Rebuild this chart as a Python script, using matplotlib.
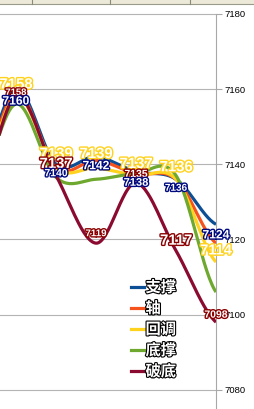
import numpy as np
import matplotlib
matplotlib.use("Agg")
import matplotlib.pyplot as plt
import matplotlib.patheffects as pe
from matplotlib.lines import Line2D

# data points (index 0 is the point just left of the visible area)
idx = [0, 1, 2, 3, 4, 5, 6]
support = [7135, 7160, 7140, 7142, 7138, 7136, 7124]      # 支撑
pivot = [7133, 7159, 7139, 7141, 7137.5, 7136, 7119]      # 轴
pullback = [7132, 7158, 7139, 7139, 7137, 7136, 7114]     # 回调
bottom = [7132, 7156, 7136.5, 7136, 7137.5, 7137, 7106]   # 底撑
breakdown = [7129, 7158, 7137, 7119, 7135, 7117, 7098]    # 破底
names = ["支撑", "轴", "回调", "底撑", "破底"]
yticks = [7080, 7100, 7120, 7140, 7160, 7180]

colors = ["#0d4f94", "#f5521e", "#ffd21e", "#6ea82e", "#8a0a30"]
label_colors = {"support": "#000a80", "pullback": "#ffd21e", "breakdown": "#8a0000"}


def smooth(xs, ys, n=30):
    # catmull-rom, like the smoothed line of the original chart
    p = np.r_[ys[0], ys, ys[-1]].astype(float)
    xo, yo = [], []
    t = np.linspace(0, 1, n, endpoint=False)
    for i in range(len(ys) - 1):
        p0, p1, p2, p3 = p[i], p[i + 1], p[i + 2], p[i + 3]
        y = 0.5 * (2 * p1 + (-p0 + p2) * t + (2 * p0 - 5 * p1 + 4 * p2 - p3) * t ** 2
                   + (-p0 + 3 * p1 - 3 * p2 + p3) * t ** 3)
        xo.append(xs[i] + t * (xs[i + 1] - xs[i]))
        yo.append(y)
    xo.append([xs[-1]])
    yo.append([ys[-1]])
    return np.concatenate(xo), np.concatenate(yo)


fig = plt.figure(figsize=(2.54, 4.09), dpi=100)
H = 409.0
ax = fig.add_axes([0, 0, 216 / 254, 396.7 / H])
ax.set_xlim(0.6, 6)
ax.set_ylim(7074.9, 7180.4)

series = [support, pivot, pullback, bottom, breakdown]
for s, c in zip(series, colors):
    sx, sy = smooth(idx, s)
    ax.plot(sx, sy, color=c, lw=2.3, solid_capstyle="butt", zorder=3)

# value labels
def put_labels(vals, col, offs, sizes):
    for x, v, dy, fs in zip(idx[1:], vals[1:], offs, sizes):
        ax.annotate(f"{v:.0f}", (x, v), xytext=(0, dy), textcoords="offset pixels",
                    ha="center", va="center", fontsize=fs, fontweight="bold",
                    family="Liberation Sans", color="white", zorder=5,
                    annotation_clip=False,
                    path_effects=[pe.withStroke(linewidth=2, foreground=col)])

put_labels(pullback, label_colors["pullback"], [12, 14, 14, 11.5, 12, 11.5],
           [10.7, 10.7, 10.7, 10.7, 10.7, 10.5])
put_labels(breakdown, label_colors["breakdown"], [4, 11.5, 10, 9, 10, 7.5],
           [6.8, 10.7, 7, 7.5, 10.7, 7.5])
put_labels(support, label_colors["support"], [-12.5, -9, -9.5, -11, -8.5, -11],
           [8.7, 7.5, 8.7, 8, 7.2, 8.7])

# axis look
for side in ["left", "top", "bottom"]:
    ax.spines[side].set_visible(False)
ax.spines["right"].set_color("#a8a8a8")
ax.spines["right"].set_bounds(7074.9, 7180)
ax.set_xticks([])
ax.set_yticks(yticks)
ax.yaxis.tick_right()
ax.tick_params(axis="y", length=4.5, color="#a8a8a8", pad=1.5, labelsize=6.8)
for t in ax.get_yticklabels():
    t.set_family("Liberation Sans")
ax.grid(axis="y", color="#b4b4b4", lw=0.8)
ax.set_axisbelow(True)

# legend
handles = [Line2D([], [], color=c, lw=2.3) for c in colors]
leg = ax.legend(handles, names, loc="upper left", bbox_to_anchor=(131 / 254, 1 - 279 / H),
                bbox_transform=fig.transFigure, frameon=False, borderpad=0,
                borderaxespad=0, handlelength=0.85, handletextpad=0.1,
                labelspacing=0.33, prop={"family": "Noto Sans CJK SC", "weight": "bold", "size": 11})
for t in leg.get_texts():
    t.set_color("white")
    t.set_path_effects([pe.withStroke(linewidth=1.6, foreground="black")])

# strip of the table header at the top
fig.add_artist(plt.Rectangle((0, 1 - 3 / H), 1, 3 / H, transform=fig.transFigure,
                             color="#ece9d8", zorder=10))
fig.add_artist(Line2D([0, 1], [1 - 3.5 / H, 1 - 3.5 / H], transform=fig.transFigure,
                      color="#9a9a8a", lw=0.8, zorder=11))
for px in [32, 110, 190]:
    fig.add_artist(Line2D([px / 254, px / 254], [1 - 3.5 / H, 1], transform=fig.transFigure,
                          color="#8a8a7a", lw=0.8, zorder=11))

fig.savefig("out.png", dpi=100)
